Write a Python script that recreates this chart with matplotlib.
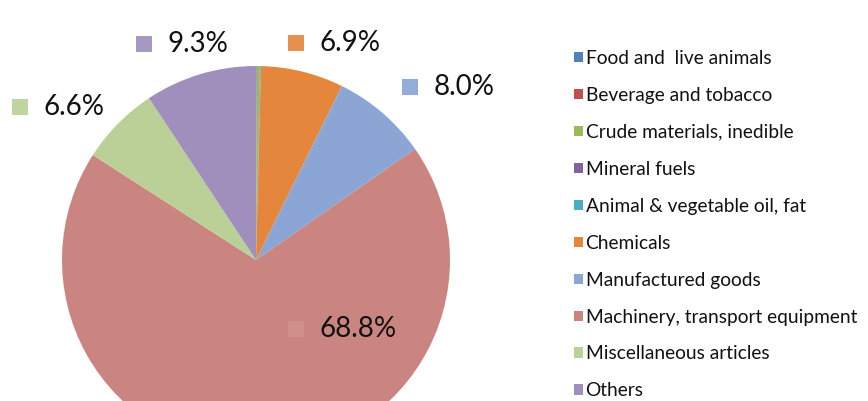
import numpy as np
import matplotlib.pyplot as plt
from matplotlib.colors import to_rgb

plt.rcParams['font.family'] = ['Lato', 'DejaVu Sans']

# share of exports by commodity group (%), clockwise from 12 o'clock
categories = ['Food and  live animals', 'Beverage and tobacco', 'Crude materials, inedible',
              'Mineral fuels', 'Animal & vegetable oil, fat', 'Chemicals',
              'Manufactured goods', 'Machinery, transport equipment',
              'Miscellaneous articles', 'Others']
shares = [0.05, 0.02, 0.25, 0.03, 0.05, 6.9, 8.0, 68.8, 6.6, 9.3]
colors = ['#4F81BD', '#C0504D', '#9BBB59', '#8064A2', '#4BACC6',
          '#E4873D', '#8BA6D4', '#CB8581', '#BBD097', '#A08EBD']

# where the Excel-style data labels sit (pie radius = 1), only for labelled slices
label_pos = {
    'Chemicals': (0.206, 1.118),
    'Manufactured goods': (0.794, 0.890),
    'Machinery, transport equipment': (0.206, -0.355),
    'Miscellaneous articles': (-1.216, 0.790),
    'Others': (-0.577, 1.113),
}

W, H = 868, 401
fig = plt.figure(figsize=(W / 100, H / 100), dpi=100)

# pie centre (256, 260) px from top-left, radius 194 px; bottom runs off the figure
cx, cy, R = 256, H - 260, 194
ax = fig.add_axes([(cx - R) / W, (cy - R) / H, 2 * R / W, 2 * R / H])
wedges, _ = ax.pie(shares, colors=colors, startangle=90, counterclock=False,
                   radius=1, wedgeprops=dict(linewidth=0))
ax.set_xlim(-1, 1)
ax.set_ylim(-1, 1)
ax.set_aspect('equal')
ax.axis('off')


def lighten(c, f=0.08):
    r, g, b = to_rgb(c)
    return (r + (1 - r) * f, g + (1 - g) * f, b + (1 - b) * f)


# data labels: legend key square + percentage
for name, val, col in zip(categories, shares, colors):
    if name not in label_pos:
        continue
    x, y = label_pos[name]
    ax.plot([x], [y], marker='s', markersize=11, color=lighten(col), clip_on=False,
            markeredgewidth=0)
    ax.annotate(f'{val:.1f}%', xy=(x, y), xytext=(17, 0), textcoords='offset points',
                ha='left', va='center', fontsize=20, color='#111111',
                annotation_clip=False)

leg = fig.legend(wedges, categories, loc='upper left',
                 bbox_to_anchor=(574 / W, 1 - 50 / H), frameon=False,
                 fontsize=13.8, handlelength=0.45, handleheight=0.45,
                 handletextpad=0.15, labelspacing=1.04, borderaxespad=0,
                 borderpad=0)
for t in leg.get_texts():
    t.set_color('#111111')

fig.savefig('out.png', dpi=100)
